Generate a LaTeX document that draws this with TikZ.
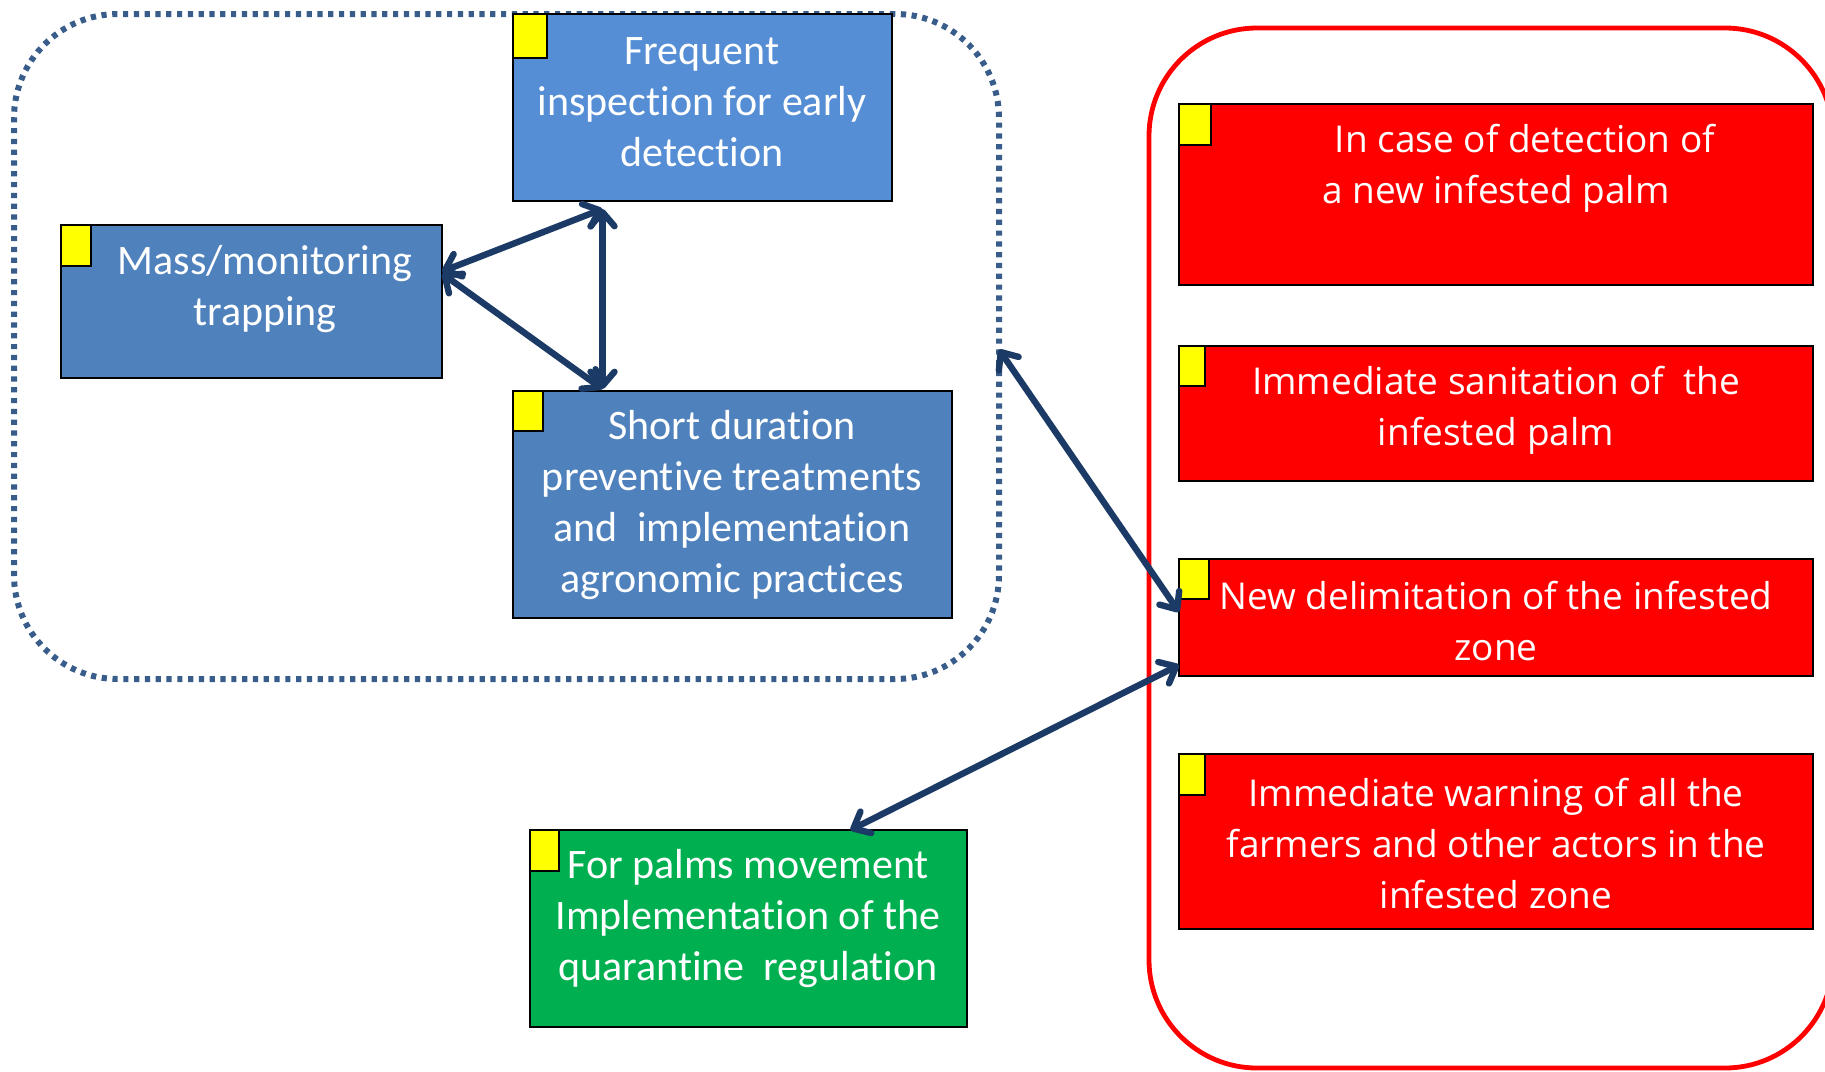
\documentclass[tikz,border=0pt]{standalone}
\usepackage{fontspec}
\setmainfont{Carlito}[RawFeature=-liga]
\newfontfamily\redfont{Open Sans}
\usetikzlibrary{arrows.meta}
\definecolor{bluelight}{HTML}{558ED5}
\definecolor{bluemid}{HTML}{4F81BD}
\definecolor{greenbox}{HTML}{00B050}
\definecolor{redbox}{HTML}{FF0000}
\definecolor{yel}{HTML}{FFFF00}
\definecolor{navy}{HTML}{1B3A66}
\definecolor{dotcol}{HTML}{385D8A}
\tikzset{
  box/.style={draw=black, line width=1pt, inner sep=0pt, outer sep=0pt},
  ysq/.style={draw=black, line width=0.8pt, fill=yel, inner sep=0pt, outer sep=0pt},
  btext/.style={text=white, align=center, font=\fontsize{21}{25.5}\selectfont, inner sep=0pt},
  rtext/.style={text=white, align=center, font=\redfont\fontsize{18.5}{25.5}\selectfont, inner sep=0pt},
  link/.style={draw=navy, line width=3.2pt, {Straight Barb[length=7pt,width=12pt,round]}-{Straight Barb[length=7pt,width=12pt,round]}},
}
\begin{document}
\begin{tikzpicture}[x=0.5pt,y=-0.5pt]
\useasboundingbox (0,0) rectangle (1825,1071);
% group containers
\node[draw=dotcol, line width=3pt, dash pattern=on 2.6pt off 2.8pt, rounded corners=52pt, minimum width=492.5pt, minimum height=332.5pt, inner sep=0pt, outer sep=0pt] (grp) at (506.5,346.5) {};
\node[draw=redbox, line width=2.4pt, rounded corners=54pt, minimum width=342pt, minimum height=520pt, inner sep=0pt, outer sep=0pt] (redgrp) at (1491,548) {};
% blue boxes
\node[box, fill=bluelight, minimum width=189.5pt, minimum height=93.5pt] (freq) at (702.5,107.5) {};
\node[box, fill=bluemid, minimum width=190.5pt, minimum height=76.5pt] (mass) at (251.5,301.5) {};
\node[box, fill=bluemid, minimum width=219.5pt, minimum height=113.5pt] (short) at (732.5,504.5) {};
\node[box, fill=greenbox, minimum width=218.5pt, minimum height=98.5pt] (green) at (748.5,928.5) {};
% red boxes
\node[box, fill=redbox, minimum width=317pt, minimum height=90.5pt] (r1) at (1496,194.5) {};
\node[box, fill=redbox, minimum width=317pt, minimum height=67.5pt] (r2) at (1496,413.5) {};
\node[box, fill=redbox, minimum width=317pt, minimum height=58.5pt] (r3) at (1496,617.5) {};
\node[box, fill=redbox, minimum width=317pt, minimum height=87.5pt] (r4) at (1496,841.5) {};
% yellow squares
\node[ysq, anchor=north west, minimum width=17pt, minimum height=22pt] (yf) at (freq.north west) {};
\node[ysq, anchor=north west, minimum width=15pt, minimum height=20.5pt] (ym) at (mass.north west) {};
\node[ysq, anchor=north west, minimum width=15pt, minimum height=20pt] (ys) at (short.north west) {};
\node[ysq, anchor=north west, minimum width=14.5pt, minimum height=20.5pt] (yg) at (green.north west) {};
\node[ysq, anchor=north west, minimum width=16pt, minimum height=20.5pt] (y1) at (r1.north west) {};
\node[ysq, anchor=north west, minimum width=13pt, minimum height=20pt] (y2) at (r2.north west) {};
\node[ysq, anchor=north west, minimum width=15pt, minimum height=20pt] (y3) at (r3.north west) {};
\node[ysq, anchor=north west, minimum width=13pt, minimum height=20.5pt] (y4) at (r4.north west) {};
% texts
\node[btext] (tf) at (702,102) {Frequent\\inspection for early\\detection};
\node[btext] (tm) at (265,289) {Mass/monitoring\\trapping};
\node[btext] (ts) at (732,505) {Short duration\\preventive treatments\\and\ \ implementation\\agronomic practices};
\node[btext] (tg) at (748,919) {For palms movement\\Implementation of the\\quarantine\ \ regulation};
\node[rtext] (t1) at (1496,168) {\hspace*{29pt}In case of detection of\\a new infested palm};
\node[rtext] (t2) at (1496,410) {Immediate sanitation of\ \ the\\infested palm};
\node[rtext] (t3) at (1496,621) {New delimitation of the infested\\zone};
\node[rtext] (t4) at (1496,844) {Immediate warning of all the\\farmers and other actors in the\\infested zone};
% connectors
\draw[link] ([yshift=15pt]mass.east) -- ([xshift=-50pt,yshift=-4pt]freq.south);
\draw[link] ([yshift=14pt]mass.east) -- ([xshift=-65pt,yshift=1pt]short.north);
\draw[link] ([xshift=-50pt,yshift=-4pt]freq.south) -- ([xshift=-65pt,yshift=1pt]short.north);
\draw[link] ([yshift=-1.5pt]grp.east) -- ([yshift=2.75pt]r3.west);
\draw[link] ([xshift=51pt]green.north) -- ([yshift=-23.75pt]r3.west);
\end{tikzpicture}
\end{document}
